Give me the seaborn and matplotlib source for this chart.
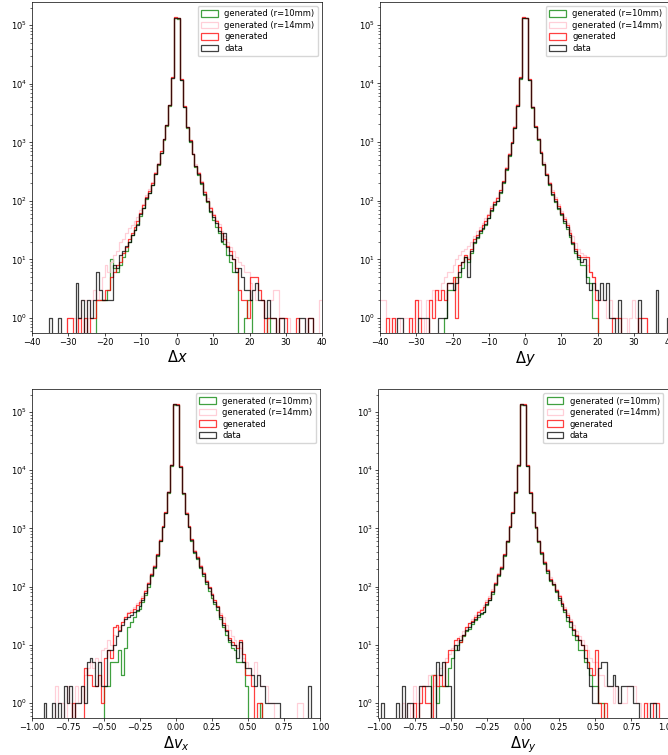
import numpy as np
import pandas as pd
import matplotlib
matplotlib.use("Agg")
import matplotlib.pyplot as plt
import seaborn as sns
from matplotlib.patches import Patch

# ---------------- data ----------------
series_names = ["generated (r=10mm)", "generated (r=14mm)", "generated", "data"]
series_colors = ["green", "pink", "red", "black"]

pos_edges = np.linspace(-40, 40, 101)   # bins for Δx, Δy
vel_edges = np.linspace(-1, 1, 101)     # bins for Δv_x, Δv_y

dx_r10 = [0]*20 + [
    0, 0, 2, 2, 2, 2, 3, 10, 7, 6,
    8, 11, 14, 20, 26, 32, 40, 55, 75, 108,
    135, 185, 285, 410, 650, 1100, 1900, 4250, 12400, 131000,
    130000, 11600, 3950, 1780, 1030, 620, 380, 280, 195, 125,
    95, 65, 48, 36, 28, 20, 18, 12, 9, 6,
    6, 0, 0, 1, 2, 2, 0, 0, 0, 0,
    0, 1, 0, 0, 0, 0, 0, 0, 0, 0] + [0]*10
dx_r14 = [0]*10 + [
    0, 0, 1, 1, 1, 0, 1, 2, 2, 1,
    2, 3, 2, 3, 5, 8, 6, 9, 12, 14,
    20, 22, 28, 35, 38, 45, 52, 70, 90, 125,
    160, 210, 310, 440, 700, 1150, 2000, 4400, 12800, 134000,
    132000, 12000, 4100, 1850, 1100, 660, 420, 310, 220, 150,
    110, 80, 60, 48, 40, 30, 25, 20, 16, 14,
    11, 9, 8, 6, 6, 4, 3, 2, 2, 2,
    1, 1, 2, 3, 3, 1, 1, 1, 1, 0,
    0, 0, 0, 0, 1, 0, 0, 0, 0, 2]
dx_gen = [0]*10 + [
    0, 0, 1, 1, 0, 0, 1, 0, 1, 0,
    1, 1, 2, 2, 2, 3, 3, 5, 6, 8,
    9, 13, 16, 22, 28, 36, 45, 62, 85, 115,
    150, 200, 300, 430, 700, 1150, 2000, 4400, 13000, 138000,
    135000, 12000, 4100, 1850, 1080, 640, 400, 300, 210, 140,
    100, 75, 58, 45, 36, 28, 22, 17, 14, 10,
    7, 3, 2, 2, 1, 5, 5, 5, 3, 2,
    0, 1, 1, 1, 0, 1, 1, 1, 0, 0,
    0, 1, 0, 0, 0, 1, 1, 0, 0, 0]
dx_data = [
    0, 0, 0, 0, 0, 0, 1, 0, 0, 1,
    0, 0, 0, 0, 0, 4, 1, 2, 0, 2,
    1, 2, 6, 3, 2, 2, 2, 2, 8, 7,
    12, 14, 17, 20, 26, 32, 39, 59, 76, 110,
    137, 190, 290, 420, 660, 1120, 1940, 4300, 12600, 133000,
    131000, 11800, 4000, 1800, 1050, 630, 390, 290, 200, 130,
    100, 67, 52, 42, 30, 21, 28, 16, 12, 10,
    6, 7, 5, 3, 3, 2, 3, 4, 2, 2,
    1, 2, 1, 1, 0, 1, 1, 0, 0, 0,
    0, 0, 1, 1, 0, 1, 1, 0, 0, 0]

dy_r10 = [0]*20 + [
    0, 0, 1, 3, 3, 3, 5, 5, 7, 11,
    9, 13, 19, 23, 28, 33, 38, 50, 68, 85,
    98, 135, 200, 335, 590, 960, 1740, 4150, 12100, 131000,
    129000, 11400, 3850, 1780, 1100, 650, 410, 270, 185, 125,
    95, 72, 56, 42, 33, 24, 18, 13, 10, 8,
    8, 5, 4, 1, 1, 0, 0, 0, 0, 0] + [0]*20
dy_r14 = [
    2, 2, 1, 1, 0, 1, 1, 0, 1, 1,
    0, 1, 2, 2, 1, 0, 2, 2, 3, 2,
    3, 4, 5, 6, 6, 8, 10, 12, 14, 15,
    17, 20, 25, 30, 36, 42, 50, 60, 80, 100,
    115, 155, 220, 370, 640, 1020, 1850, 4400, 12800, 135000,
    132000, 12000, 4100, 1900, 1180, 700, 450, 300, 210, 150,
    115, 88, 68, 52, 42, 32, 25, 19, 15, 13,
    12, 8, 6, 5, 3, 2, 2, 2, 1, 2,
    1, 1, 1, 1, 1, 0, 1, 2, 1, 0,
    1, 1, 0, 0, 0, 0, 0, 0, 0, 0]
dy_gen = [
    0, 0, 1, 0, 1, 0, 0, 0, 0, 0,
    1, 0, 2, 1, 0, 0, 0, 2, 1, 3,
    2, 3, 2, 4, 4, 5, 1, 8, 9, 12,
    10, 15, 22, 26, 32, 38, 45, 56, 75, 95,
    110, 150, 215, 360, 620, 1000, 1800, 4300, 12700, 136000,
    133000, 11800, 4000, 1850, 1150, 680, 430, 285, 200, 140,
    105, 80, 62, 48, 38, 28, 20, 15, 12, 11,
    11, 11, 6, 5, 2, 0, 0, 0, 0, 0,
    1, 1, 1, 0, 0, 0, 0, 0, 0, 1,
    1, 1, 0, 0, 0, 0, 0, 0, 0, 0]
dy_data = [
    0, 0, 0, 0, 0, 0, 1, 1, 0, 0,
    0, 0, 0, 1, 1, 1, 1, 0, 0, 0,
    1, 1, 1, 4, 4, 3, 4, 6, 9, 11,
    5, 14, 20, 24, 30, 34, 40, 51, 70, 88,
    100, 140, 205, 345, 600, 980, 1770, 4200, 12300, 133000,
    130000, 11500, 3900, 1800, 1120, 660, 420, 275, 190, 130,
    100, 75, 60, 45, 36, 26, 19, 14, 11, 9,
    10, 4, 3, 4, 3, 2, 4, 2, 4, 1,
    1, 0, 2, 0, 0, 0, 0, 0, 0, 2,
    0, 0, 0, 0, 0, 3, 0, 0, 0, 1]

dvx_r10 = [0]*20 + [
    0, 0, 0, 0, 0, 2, 2, 5, 5, 5,
    8, 3, 9, 20, 25, 30, 38, 42, 55, 72,
    100, 150, 210, 340, 600, 1050, 1830, 4150, 12000, 134000,
    133000, 11300, 3900, 1750, 1040, 610, 380, 295, 210, 155,
    110, 85, 65, 50, 40, 28, 20, 15, 11, 9,
    8, 5, 5, 5, 2, 0, 0, 0, 0, 1] + [0]*20
dvx_r14 = [
    0, 0, 0, 0, 0, 0, 0, 0, 2, 1,
    1, 0, 2, 1, 0, 2, 1, 2, 3, 4,
    5, 4, 6, 5, 8, 9, 12, 10, 15, 14,
    20, 25, 30, 36, 40, 45, 52, 58, 68, 88,
    120, 170, 235, 370, 650, 1120, 1950, 4350, 12600, 137000,
    135000, 11900, 4150, 1900, 1120, 670, 420, 330, 240, 180,
    130, 100, 78, 60, 45, 35, 30, 22, 18, 14,
    12, 10, 9, 6, 5, 4, 3, 5, 3, 2,
    2, 2, 1, 1, 0, 0, 0, 0, 0, 0,
    0, 0, 1, 1, 0, 0, 0, 0, 0, 0]
dvx_gen = [0]*10 + [
    0, 0, 0, 0, 1, 0, 0, 0, 4, 3,
    3, 2, 2, 3, 1, 6, 8, 6, 20, 22,
    18, 25, 30, 35, 36, 42, 48, 55, 65, 85,
    115, 165, 230, 360, 640, 1100, 1900, 4300, 12500, 138000,
    136000, 11800, 4100, 1850, 1100, 650, 410, 320, 230, 170,
    125, 98, 75, 58, 46, 33, 24, 18, 13, 11,
    10, 9, 12, 7, 3, 3, 2, 0, 1, 1] + [0]*20
dvx_data = [
    0, 0, 0, 0, 1, 0, 0, 1, 0, 1,
    0, 2, 1, 2, 0, 1, 1, 2, 1, 5,
    6, 5, 2, 5, 2, 2, 8, 8, 10, 14,
    17, 22, 28, 30, 33, 36, 40, 46, 60, 78,
    110, 158, 220, 350, 620, 1070, 1860, 4200, 12200, 136000,
    135000, 11500, 4000, 1800, 1070, 630, 400, 310, 220, 165,
    120, 95, 72, 55, 45, 30, 22, 17, 12, 10,
    10, 6, 11, 5, 4, 4, 3, 2, 3, 2,
    2, 1, 1, 1, 1, 1, 0, 0, 0, 0,
    0, 0, 0, 0, 0, 0, 2, 0, 0, 0]

dvy_r10 = [0]*10 + [
    0, 0, 0, 0, 0, 0, 0, 0, 3, 3,
    1, 2, 2, 2, 4, 6, 8, 10, 11, 14,
    17, 19, 23, 27, 30, 34, 36, 48, 58, 76,
    105, 155, 205, 340, 590, 1050, 1830, 4150, 12000, 134000,
    133000, 11800, 4000, 1850, 1030, 590, 370, 250, 175, 125,
    105, 80, 60, 46, 36, 26, 20, 15, 12, 8,
    8, 5, 5, 3, 2, 2, 1, 1, 0, 0] + [0]*20
dvy_r14 = [
    0, 0, 0, 0, 0, 0, 0, 0, 1, 0,
    1, 0, 2, 1, 2, 2, 2, 3, 3, 2,
    3, 4, 5, 6, 7, 9, 10, 12, 14, 17,
    20, 24, 28, 32, 38, 42, 48, 58, 70, 90,
    120, 170, 230, 370, 640, 1120, 1950, 4350, 12600, 137000,
    135000, 12100, 4200, 1950, 1100, 630, 400, 280, 200, 145,
    120, 92, 72, 56, 45, 35, 28, 22, 17, 14,
    12, 10, 8, 6, 5, 5, 3, 3, 2, 2,
    2, 1, 2, 1, 1, 1, 2, 2, 2, 1,
    1, 0, 0, 1, 1, 0, 0, 0, 0, 0]
dvy_gen = [0]*10 + [
    0, 0, 1, 0, 1, 2, 1, 1, 0, 3,
    2, 3, 2, 5, 8, 8, 12, 13, 11, 15,
    20, 24, 26, 30, 36, 40, 45, 55, 65, 85,
    115, 165, 220, 360, 620, 1100, 1900, 4300, 12500, 138000,
    136000, 12200, 4200, 1950, 1080, 620, 390, 270, 190, 135,
    112, 88, 68, 52, 42, 32, 26, 19, 15, 12,
    10, 8, 5, 4, 3, 8, 1, 0, 1, 0,
    0, 0, 0, 0, 0, 0, 0, 0, 0, 0,
    0, 0, 1, 0, 0, 1, 1, 0, 0, 0]
dvy_data = [
    0, 1, 0, 0, 0, 0, 1, 0, 2, 0,
    1, 1, 0, 0, 2, 2, 2, 2, 0, 0,
    5, 3, 5, 2, 2, 0, 10, 8, 12, 15,
    18, 20, 25, 28, 32, 35, 37, 50, 60, 80,
    110, 160, 210, 350, 600, 1070, 1860, 4200, 12200, 136000,
    135000, 12000, 4100, 1900, 1050, 600, 380, 260, 185, 130,
    110, 85, 65, 50, 40, 30, 25, 18, 14, 12,
    10, 6, 4, 2, 1, 1, 4, 5, 5, 2,
    2, 3, 2, 1, 2, 2, 2, 2, 1, 1,
    0, 0, 0, 0, 1, 1, 0, 0, 0, 0]

x_labels = [r"$\Delta x$", r"$\Delta y$", r"$\Delta v_x$", r"$\Delta v_y$"]

panels = [
    (pos_edges, [dx_r10, dx_r14, dx_gen, dx_data]),
    (pos_edges, [dy_r10, dy_r14, dy_gen, dy_data]),
    (vel_edges, [dvx_r10, dvx_r14, dvx_gen, dvx_data]),
    (vel_edges, [dvy_r10, dvy_r14, dvy_gen, dvy_data]),
]

# ---------------- figure ----------------
W, H = 668, 755
fig = plt.figure(figsize=(W / 100, H / 100), dpi=100)
boxes = [  # left, top, right, bottom in pixels
    (32, 2, 322, 333),
    (380, 2, 670, 333),
    (32, 389, 320, 718),
    (378.5, 389, 667.5, 718),
]
LW = 0.9
ALPHA = 0.75

for (edges, counts_list), lab, (l, t, r, b) in zip(panels, x_labels, boxes):
    ax = fig.add_axes([l / W, 1 - b / H, (r - l) / W, (b - t) / H])
    ax.set_yscale("log")
    centers = 0.5 * (edges[:-1] + edges[1:])
    for name, col, cnt in zip(series_names, series_colors, counts_list):
        df = pd.DataFrame({"val": centers, "n": np.asarray(cnt, dtype=float)})
        sns.histplot(data=df, x="val", weights="n", bins=list(edges),
                     element="step", fill=False, color=col, alpha=ALPHA,
                     linewidth=LW, ax=ax)
    ax.set_xlim(edges[0], edges[-1])
    ymax = max(max(c) for c in counts_list)
    span = np.log10(ymax)
    ax.set_ylim(10 ** (-0.05 * span), 10 ** (1.05 * span))
    ax.set_ylabel("")
    ax.set_xlabel(lab, fontsize=10.5, labelpad=1.5)
    ax.tick_params(axis="both", which="major", labelsize=6, length=2.2, width=0.5, pad=1.5)
    ax.tick_params(axis="both", which="minor", length=1.3, width=0.4)
    for sp in ax.spines.values():
        sp.set_linewidth(0.5)
    handles = [Patch(facecolor="none", edgecolor=c, alpha=ALPHA, linewidth=LW)
               for c in series_colors]
    ax.legend(handles, series_names, loc="upper right", fontsize=6,
              handlelength=2.0, handleheight=0.8, borderpad=0.4,
              labelspacing=0.3, framealpha=0.8)

fig.savefig("out.png", dpi=100)
